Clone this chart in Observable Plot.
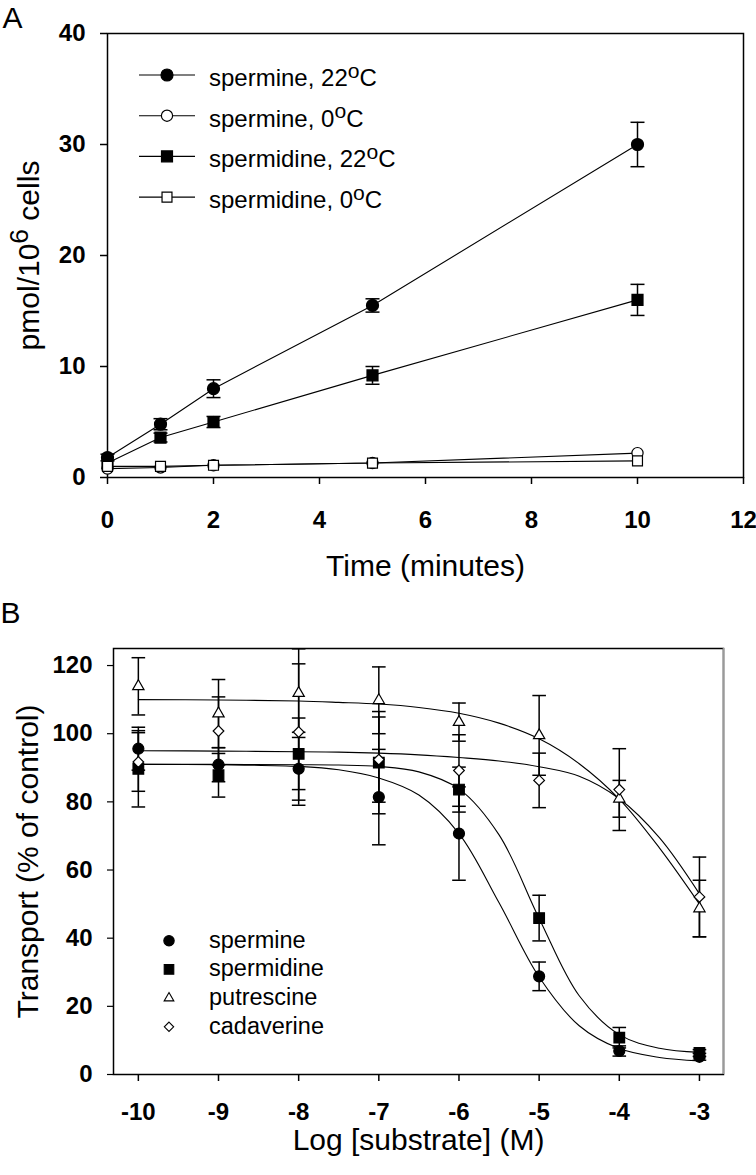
<!DOCTYPE html>
<html>
<head>
<meta charset="utf-8">
<script src="https://cdn.jsdelivr.net/npm/d3@7"></script>
<script src="https://cdn.jsdelivr.net/npm/@observablehq/plot@0.6"></script>
<style>
  body { margin: 0; background: #fff; }
  #chart svg { display: block; }
</style>
</head>
<body>
<div id="chart"></div>
<script>
const FONT = "'Liberation Sans', Arial, Helvetica, sans-serif";

// ---------------- Panel A data ----------------
const timesA = [0, 1, 2, 5, 10];
const seriesA = ["spermine, 22^oC", "spermine, 0^oC", "spermidine, 22^oC", "spermidine, 0^oC"];
const spermine22 = [1.8, 4.8, 8.0, 15.5, 30.0];
const spermine22Err = [0.3, 0.5, 0.8, 0.6, 2.0];
const spermine0 = [0.8, 0.9, 1.1, 1.3, 2.2];
const spermine0Err = [0.1, 0.1, 0.1, 0.2, 0.2];
const spermidine22 = [1.3, 3.6, 5.0, 9.2, 16.0];
const spermidine22Err = [0.2, 0.4, 0.5, 0.8, 1.4];
const spermidine0 = [1.0, 1.0, 1.1, 1.3, 1.5];
const spermidine0Err = [0.1, 0.1, 0.1, 0.1, 0.2];
const xTicksA = [0, 2, 4, 6, 8, 10, 12];
const yTicksA = [0, 10, 20, 30, 40];
const xLabelA = "Time (minutes)";
const yLabelA = "pmol/10^6 cells";

// ---------------- Panel B data ----------------
const logConc = [-10, -9, -8, -7, -6, -5, -4, -3];
const seriesB = ["spermine", "spermidine", "putrescine", "cadaverine"];
const spermineB = [95.6, 90.9, 89.7, 81.4, 70.7, 28.8, 6.9, 5.2];
const spermineBErr = [6.3, 5.0, 10.7, 14.0, 13.7, 4.2, 1.5, 1.0];
const spermidineB = [89.7, 87.8, 94.1, 91.5, 83.6, 45.9, 10.8, 6.3];
const spermidineBErr = [11.2, 6.4, 10.5, 15.0, 6.6, 6.7, 3.0, 1.0];
const putrescineB = [113.9, 105.9, 111.9, 109.8, 103.4, 99.5, 80.9, 48.7];
const putrescineBErr = [8.4, 10.0, 13.0, 9.8, 5.6, 11.7, 5.4, 8.3];
const cadaverineB = [91.7, 100.8, 100.5, 92.4, 89.2, 86.3, 83.6, 52.1];
const cadaverineBErr = [8.6, 10.0, 20.0, 12.5, 10.5, 8.0, 12.0, 11.7];
// fitted curves
const curveX = [-10, -9, -8, -7.5, -7, -6.5, -6, -5.5, -5, -4.5, -4, -3.5, -3];
const spermineFit = [91.0, 90.9, 90.4, 89.4, 87.0, 82.0, 70.7, 50.4, 28.6, 14.3, 7.6, 5.0, 4.0];
const spermidineFit = [91.0, 91.0, 90.9, 90.8, 90.4, 88.8, 83.8, 70.3, 45.8, 23.1, 11.7, 7.7, 6.5];
const putrescineFit = [110.0, 109.9, 109.6, 109.2, 108.7, 107.7, 106.0, 103.1, 98.5, 91.2, 80.8, 66.5, 50.0];
const cadaverineFit = [95.0, 94.9, 94.7, 94.6, 94.3, 93.8, 93.0, 92.0, 90.3, 87.5, 80.9, 69.5, 53.0];
const xTicksB = [-10, -9, -8, -7, -6, -5, -4, -3];
const yTicksB = [0, 20, 40, 60, 80, 100, 120];
const xLabelB = "Log [substrate] (M)";
const yLabelB = "Transport (% of control)";

// ---------------- helpers ----------------
const capSymbol = {
  draw(ctx, size) {
    const r = Math.sqrt(size / Math.PI);
    ctx.moveTo(-r, 0); ctx.lineTo(r, 0);
  }
};
const symTypes = { circle: d3.symbolCircle, square: d3.symbolSquare, triangle: d3.symbolTriangle, diamond2: d3.symbolDiamond2 };

function supify(root) {
  root.querySelectorAll("text").forEach(t => {
    const s = t.textContent;
    if (!s.includes("^")) return;
    const m = s.match(/^(.*)\^(.)(.*)$/);
    while (t.firstChild) t.removeChild(t.firstChild);
    const ns = "http://www.w3.org/2000/svg";
    const a = document.createElementNS(ns, "tspan"); a.textContent = m[1]; t.appendChild(a);
    const b = document.createElementNS(ns, "tspan"); b.textContent = m[2];
    b.setAttribute("font-size", "88%"); b.setAttribute("dy", "-0.40em"); t.appendChild(b);
    const c = document.createElementNS(ns, "tspan"); c.textContent = m[3];
    c.setAttribute("dy", (0.40 * 0.88).toFixed(3) + "em"); t.appendChild(c);
  });
}

// ---------------- Panel A ----------------
const valsA = [spermine22, spermine0, spermidine22, spermidine0];
const errsA = [spermine22Err, spermine0Err, spermidine22Err, spermidine0Err];
const styleA = [
  { symbol: "circle", fill: "black", r: 6 },
  { symbol: "circle", fill: "white", r: 5.6 },
  { symbol: "square", fill: "black", r: 6.2 },
  { symbol: "square", fill: "white", r: 5.6 }
];
const tableA = seriesA.flatMap((s, i) => timesA.map((t, j) => ({ series: s, i, t, v: valsA[i][j], e: errsA[i][j] })));

const mA = { top: 33, right: 13, bottom: 113, left: 107 };
const plotA = Plot.plot({
  width: 756, height: 590,
  marginTop: mA.top, marginRight: mA.right, marginBottom: mA.bottom, marginLeft: mA.left,
  style: { fontFamily: FONT, color: "black", background: "white" },
  x: { domain: [0, 12] },
  y: { domain: [0, 40] },
  marks: [
    Plot.frame({ stroke: "black", strokeWidth: 1.5 }),
    Plot.axisX({ ticks: xTicksA, tickSize: 7, tickPadding: 26, fontSize: 24, fontWeight: "bold", label: null, strokeWidth: 1.5 }),
    Plot.axisY({ ticks: yTicksA, tickSize: 7, tickPadding: 15, fontSize: 24, fontWeight: "bold", label: null, strokeWidth: 1.5 }),
    Plot.line(tableA, { x: "t", y: "v", z: "series", stroke: "black", strokeWidth: 1.1 }),
    Plot.ruleX(tableA, { x: "t", y1: d => d.v - d.e, y2: d => d.v + d.e, stroke: "black", strokeWidth: 1.5 }),
    Plot.dot(tableA.filter(d => d.e > 0.25), { x: "t", y: d => d.v + d.e, symbol: capSymbol, r: 7, stroke: "black", strokeWidth: 1.5 }),
    Plot.dot(tableA.filter(d => d.e > 0.25), { x: "t", y: d => d.v - d.e, symbol: capSymbol, r: 7, stroke: "black", strokeWidth: 1.5 }),
    ...styleA.map((st, i) => Plot.dot(tableA.filter(d => d.i === i), {
      x: "t", y: "v", symbol: st.symbol, r: st.r, fill: st.fill, stroke: "black", strokeWidth: 1.2
    })),
    Plot.text([yLabelA], { frameAnchor: "left", dx: -69, rotate: -90, textAnchor: "middle", lineAnchor: "bottom", fontSize: 30 }),
    Plot.text([xLabelA], { frameAnchor: "bottom", dy: 98, textAnchor: "middle", lineAnchor: "bottom", fontSize: 30 }),
    Plot.text(["A"], { frameAnchor: "top-left", dx: -105, dy: -6, textAnchor: "start", lineAnchor: "bottom", fontSize: 30 })
  ]
});

// legend A
(function () {
  const g = d3.select(plotA).append("g").attr("font-family", FONT).attr("font-size", 24)
    .attr("fill", "black").attr("text-anchor", "start");
  seriesA.forEach((s, i) => {
    const y = mA.top + 42 + i * 40.7;
    const x0 = mA.left;
    g.append("line").attr("x1", x0 + 32).attr("x2", x0 + 88).attr("y1", y).attr("y2", y)
      .attr("stroke", "black").attr("stroke-width", 1.1);
    const st = styleA[i];
    g.append("path").attr("d", d3.symbol(symTypes[st.symbol], st.r * st.r * Math.PI)())
      .attr("transform", `translate(${x0 + 60},${y})`)
      .attr("fill", st.fill).attr("stroke", "black").attr("stroke-width", 1.2);
    g.append("text").attr("x", x0 + 102).attr("y", y + 11).attr("text-anchor", "start").text(s);
  });
})();
supify(plotA);

// ---------------- Panel B ----------------
const valsB = [spermineB, spermidineB, putrescineB, cadaverineB];
const errsB = [spermineBErr, spermidineBErr, putrescineBErr, cadaverineBErr];
const fitsB = [spermineFit, spermidineFit, putrescineFit, cadaverineFit];
const styleB = [
  { symbol: "circle", fill: "black", r: 5.5, lr: 5.2 },
  { symbol: "square", fill: "black", r: 6.0, lr: 5.4 },
  { symbol: "triangle", fill: "white", r: 4.2, lr: 3.6 },
  { symbol: "diamond2", fill: "white", r: 4.8, lr: 4.2 }
];
const tableB = seriesB.flatMap((s, i) => logConc.map((x, j) => ({ series: s, i, x, v: valsB[i][j], e: errsB[i][j] })));
const fitTable = seriesB.flatMap((s, i) => curveX.map((x, j) => ({ series: s, x, v: fitsB[i][j] })));
const drawOrder = [1, 0, 2, 3];

const mB = { top: 58, right: 33, bottom: 101, left: 113 };
const xDomB = [-10.31, -2.70];
const plotB = Plot.plot({
  width: 756, height: 585,
  marginTop: mB.top, marginRight: mB.right, marginBottom: mB.bottom, marginLeft: mB.left,
  style: { fontFamily: FONT, color: "black", background: "white" },
  x: { domain: xDomB },
  y: { domain: [0, 125] },
  marks: [
    Plot.frame({ stroke: "black", strokeWidth: 1.5 }),
    Plot.ruleX([xDomB[1]], { stroke: "#9a9a9a", strokeWidth: 1.6 }),
    Plot.axisX({ ticks: xTicksB, tickSize: 7, tickPadding: 21, fontSize: 24, fontWeight: "bold", label: null, strokeWidth: 1.5, tickFormat: d => String(d) }),
    Plot.axisY({ ticks: yTicksB, tickSize: 6, tickPadding: 15, fontSize: 24, fontWeight: "bold", label: null, strokeWidth: 1.2 }),
    Plot.line(fitTable, { x: "x", y: "v", z: "series", curve: "catmull-rom", stroke: "black", strokeWidth: 1.1 }),
    Plot.ruleX(tableB, { x: "x", y1: d => d.v - d.e, y2: d => d.v + d.e, stroke: "black", strokeWidth: 1.5 }),
    Plot.dot(tableB, { x: "x", y: d => d.v + d.e, symbol: capSymbol, r: 6.8, stroke: "black", strokeWidth: 1.5 }),
    Plot.dot(tableB, { x: "x", y: d => d.v - d.e, symbol: capSymbol, r: 6.8, stroke: "black", strokeWidth: 1.5 }),
    ...drawOrder.map(i => Plot.dot(tableB.filter(d => d.i === i), {
      x: "x", y: "v", symbol: styleB[i].symbol, r: styleB[i].r, fill: styleB[i].fill, stroke: "black", strokeWidth: 1.2
    })),
    Plot.text([yLabelB], { frameAnchor: "left", dx: -76, rotate: -90, textAnchor: "middle", lineAnchor: "bottom", fontSize: 30 }),
    Plot.text([xLabelB], { frameAnchor: "bottom", dy: 75, textAnchor: "middle", lineAnchor: "bottom", fontSize: 30 }),
    Plot.text(["B"], { frameAnchor: "top-left", dx: -113, dy: -26, textAnchor: "start", lineAnchor: "bottom", fontSize: 30 })
  ]
});

// legend B
(function () {
  const g = d3.select(plotB).append("g").attr("font-family", FONT).attr("font-size", 23.5)
    .attr("fill", "black").attr("text-anchor", "start");
  seriesB.forEach((s, i) => {
    const y = mB.top + 292.7 + i * 28.7;
    const x0 = mB.left;
    const st = styleB[i];
    g.append("path").attr("d", d3.symbol(symTypes[st.symbol], st.lr * st.lr * Math.PI)())
      .attr("transform", `translate(${x0 + 56},${y})`)
      .attr("fill", st.fill).attr("stroke", "black").attr("stroke-width", 1.1);
    g.append("text").attr("x", x0 + 96).attr("y", y + 7).attr("text-anchor", "start").text(s);
  });
})();
supify(plotB);

document.getElementById("chart").append(plotA, plotB);
</script>
</body>
</html>
